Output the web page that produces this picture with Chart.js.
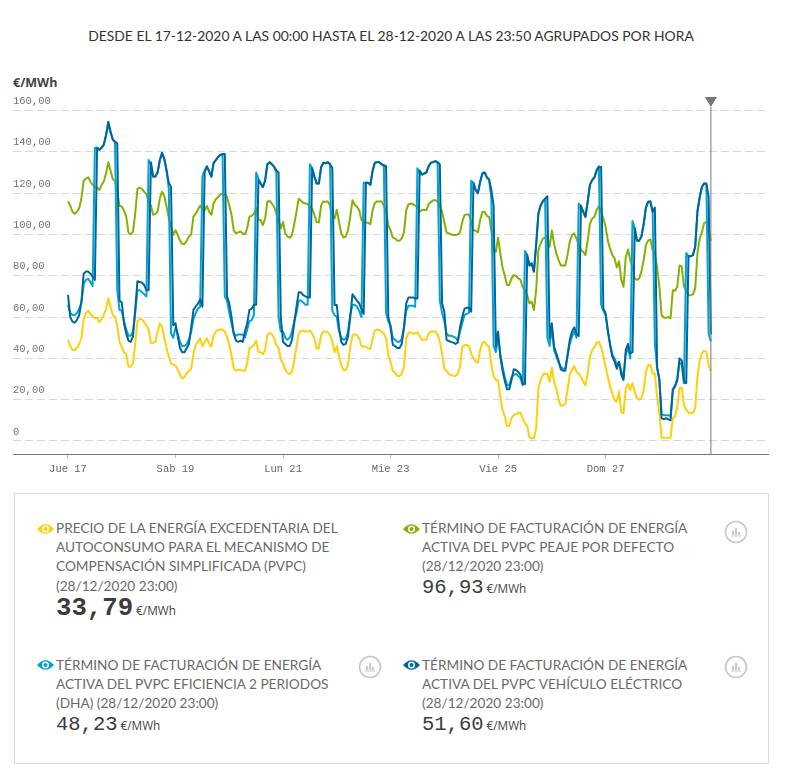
<!DOCTYPE html>
<html>
<head>
<meta charset="utf-8">
<script src="https://cdn.jsdelivr.net/npm/chart.js@4"></script>
<style>
html,body{margin:0;padding:0;background:#fff;}
body{width:786px;height:780px;position:relative;overflow:hidden;font-family:Lato,"Open Sans",sans-serif;}
canvas{position:absolute;left:0;top:0;}
.title{position:absolute;left:0;top:27px;width:782px;text-align:center;font-size:13.9px;color:#333;line-height:17px;}
.unit{position:absolute;left:13px;top:74px;font:bold 12.5px "Open Sans",sans-serif;color:#444;}
.box{position:absolute;left:14px;top:493px;width:753px;height:269px;border:1px solid #dcdcdc;}
.item{position:absolute;width:300px;font-size:13.65px;line-height:19.2px;color:#6a6a6a;white-space:nowrap;}
.item .val{font-family:"Liberation Mono",monospace;font-size:20.5px;color:#3c3c3c;line-height:20px;margin-top:1px;}
.item .val.big{margin-top:3px;}
.item .val b{font-size:25.7px;}
.item .val span{font:11.8px "Open Sans",sans-serif;color:#444;margin-left:3px;}
.eye{position:absolute;width:17px;height:12px;}
.ico{position:absolute;width:24px;height:24px;}
</style>
</head>
<body>
<div class="title">DESDE EL 17-12-2020 A LAS 00:00 HASTA EL 28-12-2020 A LAS 23:50 AGRUPADOS POR HORA</div>
<div class="unit">€/MWh</div>
<canvas id="canvas1" width="786" height="480"></canvas>
<div class="box"></div>

<svg class="eye" style="left:37px;top:523px" viewBox="0 0 17 12"><path d="M0 6Q8.5 -3.5 17 6Q8.5 15.5 0 6z" fill="#ffcf09"/><circle cx="8.5" cy="6" r="3.5" fill="#fff"/><circle cx="8.5" cy="6" r="2" fill="#ffcf09"/></svg>
<div class="item" style="left:56px;top:519px">PRECIO DE LA ENERGÍA EXCEDENTARIA DEL<br>AUTOCONSUMO PARA EL MECANISMO DE<br>COMPENSACIÓN SIMPLIFICADA (PVPC)<br>(28/12/2020 23:00)<div class="val big"><b>33,79</b><span>€/MWh</span></div></div>

<svg class="eye" style="left:403px;top:523px" viewBox="0 0 17 12"><path d="M0 6Q8.5 -3.5 17 6Q8.5 15.5 0 6z" fill="#85b200"/><circle cx="8.5" cy="6" r="3.5" fill="#fff"/><circle cx="8.5" cy="6" r="2" fill="#85b200"/></svg>
<div class="item" style="left:422px;top:519px">TÉRMINO DE FACTURACIÓN DE ENERGÍA<br>ACTIVA DEL PVPC PEAJE POR DEFECTO<br>(28/12/2020 23:00)<div class="val">96,93<span>€/MWh</span></div></div>

<svg class="eye" style="left:37px;top:659px" viewBox="0 0 17 12"><path d="M0 6Q8.5 -3.5 17 6Q8.5 15.5 0 6z" fill="#00a2d8"/><circle cx="8.5" cy="6" r="3.5" fill="#fff"/><circle cx="8.5" cy="6" r="2" fill="#00a2d8"/></svg>
<div class="item" style="left:56px;top:656px">TÉRMINO DE FACTURACIÓN DE ENERGÍA<br>ACTIVA DEL PVPC EFICIENCIA 2 PERIODOS<br>(DHA) (28/12/2020 23:00)<div class="val">48,23<span>€/MWh</span></div></div>

<svg class="eye" style="left:403px;top:659px" viewBox="0 0 17 12"><path d="M0 6Q8.5 -3.5 17 6Q8.5 15.5 0 6z" fill="#006699"/><circle cx="8.5" cy="6" r="3.5" fill="#fff"/><circle cx="8.5" cy="6" r="2" fill="#006699"/></svg>
<div class="item" style="left:422px;top:656px">TÉRMINO DE FACTURACIÓN DE ENERGÍA<br>ACTIVA DEL PVPC VEHÍCULO ELÉCTRICO<br>(28/12/2020 23:00)<div class="val">51,60<span>€/MWh</span></div></div>

<svg class="ico" style="left:724px;top:520px" viewBox="0 0 24 24"><circle cx="12" cy="12" r="10.5" fill="none" stroke="#c8c8c8" stroke-width="1.6"/><path d="M7 16h10" stroke="#c8c8c8"/><path d="M8 11h2v4H8zM11 8h2v7h-2zM14 12h2v3h-2z" fill="#c8c8c8"/></svg>
<svg class="ico" style="left:358px;top:655px" viewBox="0 0 24 24"><circle cx="12" cy="12" r="10.5" fill="none" stroke="#c8c8c8" stroke-width="1.6"/><path d="M7 16h10" stroke="#c8c8c8"/><path d="M8 11h2v4H8zM11 8h2v7h-2zM14 12h2v3h-2z" fill="#c8c8c8"/></svg>
<svg class="ico" style="left:724px;top:655px" viewBox="0 0 24 24"><circle cx="12" cy="12" r="10.5" fill="none" stroke="#c8c8c8" stroke-width="1.6"/><path d="M7 16h10" stroke="#c8c8c8"/><path d="M8 11h2v4H8zM11 8h2v7h-2zM14 12h2v3h-2z" fill="#c8c8c8"/></svg>

<script>
// tick positions, x is hours since 17-12-2020 00:00
var xTicks = [0,48,96,144,192,240];
var xLabels = ["Jue 17","Sab 19","Lun 21","Mie 23","Vie 25","Dom 27"];
var yTicks = [0,20,40,60,80,100,120,140,160];
var yLabels = ["0","20,00","40,00","60,00","80,00","100,00","120,00","140,00","160,00"];
var cursorHour = 287;

// precio energia excedentaria
var excedentaria = [
49,46,44,44,45,47,50,59,62,63,61.5,60.5,59.5,59.5,57.5,59,61,64,69,65,61,60,56,48,
45.5,43,42,36,36,37.5,47,58,59,59,57.5,56,54,47.5,47.5,48,53,57,55,50,45,41,37.5,37,
36.5,34.5,32,30.3,31,32.8,34,35,42.4,46.5,48,49.7,45.7,48,49.7,47,45.7,51.3,53,53.8,54,54,53,50.5,
46.5,41.6,35,34,34.4,34.4,34,34,37.6,45,45.7,46.5,48.6,43,43,42,44,51.3,52.4,51.8,49.7,46.5,45,39.5,
37.6,34.4,33,32.4,33.5,39,45.6,51.8,53.4,53.4,53,53,53.4,52,49.7,44.8,44.8,51.3,53,53,52.6,51.3,48,43,
46,40.8,36.8,34.4,34.4,36.8,45.6,51,51.6,51.3,49.7,46,45.6,45.6,44.8,44.5,49.7,53.4,54,53.7,53,52,49.7,41.6,
38.4,33.9,33,31.5,31.5,32.4,36,49.7,52.4,52.6,52,52,52.6,50.8,48.9,49.2,49,52,53,53,53,51.6,48,42.4,
35,34,32.4,32,31.6,31.5,32.4,36,45.6,46.5,46.5,46,42.4,40,38.4,38,44,47.6,48,46.5,45.6,36.8,31.5,29.5,
29.5,21.5,15,11.8,7.3,7.3,11,12.6,13,13.7,13.7,11,8.5,7.3,1.8,1.3,1.3,6,25.5,29.5,32,32.7,32.4,28.7,
35.5,28.7,25.5,19.8,17,17.2,18,24.7,32,34.4,36.3,33.5,32.7,31,28.7,27,32.7,40.8,44,45.3,47.7,48,45.6,40.8,
36,31,26.3,23,19.8,19,24,14,13.4,25.5,27.6,24.7,28,24,20.6,20,20.8,24.7,33.5,36.8,36.8,32.7,32.7,21.5,
13.4,1.6,1.6,1.6,1.6,1.6,11,11.8,16.6,25.8,25.8,17.4,15,13.7,13.4,13.7,15.8,31,39,42.4,43.7,43,36.8,33.79];

// peaje por defecto
var peajeDefecto = [
116,114,111,110,111,112.7,117.5,126,127,127.7,125.6,124,123,122.8,121.5,124,125.6,129.6,135,131,126.7,126,120.7,113.8,
113.5,111.5,108.6,101,100,101.4,110,122,122.7,122,120.7,119.6,116,114,109.5,110,111,117.5,120.7,118.6,113.5,108,103.8,99.8,
102,99.8,97,95.4,95.4,97,99,100,108.6,110,112,114,112,111.5,113.8,111,109.5,115,117,118,119.4,119.6,119.6,118,
114,109.5,102,100.5,101,101.4,100.5,100,103,108.6,109,110,112.7,107,107,104.5,107.7,115.8,116.3,115,113.4,110,107,103,
106,100.5,99,98.4,99.7,105,111,117.3,116.3,115.3,115,114.7,113.4,112.6,109.4,106,105.8,114,116,115.8,116,114,109.4,107.7,
112,106,100.5,98.5,98.9,102,108.5,116.6,114.5,113.4,111.8,107,106,105.8,105.6,105,111.8,115.3,116,116,116,114,111,104.5,
102,98.5,98,97,97,98,101,111.8,114.5,115,114.7,113.9,113.4,111,111.8,111.8,111.8,114.7,115.8,116.5,116.6,115.8,114,111,
106,101,100.5,100,99.7,99.7,100,101,106,109.4,109.7,109.7,106,102,101.8,101,107,111,111,108.9,108.5,102,92.4,91.6,
98.4,90.8,84,80,75.5,75.5,78.7,80.3,80,78.7,78,74.4,73,70.6,66.6,67.4,63.4,73,92.4,95.6,98,98.5,99,94,
102,95.6,90.8,87.6,85,85,85,90,96.5,99.7,100.5,98,94.8,92.4,91.6,90,97,105,107.7,108.5,111.8,113.7,111,107.7,
103.7,97,93,90,88.4,84,87,78,74.7,89,92.7,87.6,84,78.7,78,78.7,82,87.6,94.8,97,97.6,92.4,90.8,84,
74.7,61,59.7,59.7,60,59.4,73,72.7,74.7,85,84.4,74.7,73,70.6,70.6,71,73.9,90.8,98,101,105.6,106,102,96.93];

// eficiencia 2 periodos (DHA)
var eficiencia = [
66,62,61,61,62,64,67,76,78,78.5,77,75,142,142,141,142,143.5,148,154,149,146,144.5,73,63.5,
63,58,54,51,51,53,62,73,73,72,71,70,136,134,128,128,130,136,139.5,136.5,131,122,52,50,
55,52,48,46,46,47,49,53,59,62,64,65,128,131,133,130.5,128,134.5,136,137.5,138.5,138.5,70,68,
62,57,52,51,51.5,51.5,51.5,50,54,58,58.5,61,130,127,124.7,123,126,134,135,134,132.7,130,60,53,
53,50,49,50,53,58,62,68,68,67,66,66,134,132,128,124.7,124.7,132.5,134.7,134.4,135,134,63,61,
60,53,50,49,49.5,53,61,66,66,65,63,60,125,125,125,124,131,134.7,135,135,134,133,62,58,
56,50,49,48,48,49.5,55,63,65.5,65.5,65.5,65,132,130,129,129.5,130,133,134.7,135,135.5,134.5,68,62,
58,52,51,51,50.5,50,48.5,53,57,61,61.5,62,126,125,121.5,120,125.5,129.5,130,127.6,126.6,117,46,43,
50,42,36,31,27,27,31,32,32.5,31.5,30.5,27,92,90,85,86,82,95,110,114,116,117,50,46,
55,44,41,38,36,35,35,41,47,50.5,53,50,115,113,111,108.5,115.8,124,126.3,127.6,131,133,66,63,
61,53,47,42,40,37,38,34,31,42,45,40,106.5,103,97,97,99,105,113,115.8,116,111,47,35,
30,13,12.5,12.5,12.5,12,25,27,30,38,37,28,91,89.5,89.5,90,94,111,118,123,124.7,124,52,48.23];

// vehiculo electrico
var vehiculo = [
70.7,60,57.8,57.3,58.6,61,67.5,81,82,82,81,79.6,78,142,141,142,143.5,148,154.6,150,146,145,144,68,
67,57,52,48.6,48,50.5,63.5,77.3,77,76.7,75.5,73,73,135,128,128,130,136,139.5,136.5,131,125,123,56,
57,50.5,45,43,43,45,47,55,63.5,65,66.5,68.5,65,130,133,130.5,128,134.5,136,137.5,138.5,139,139,70,
66.6,60,52,48.6,48,48.6,48,53,57,63.5,64,66,66,126.4,124.7,123,126,134,135,134,132.7,131,130,60,
48,47,46,46,49,57,65,72,72,70.6,70,69.5,69.5,132,128,124.7,124.7,132.5,134.7,134.4,135,134,132,65.8,
65.8,55,48,46.5,47,50.5,60,71,69.5,68,66.6,64,61.5,125,125,124,131,134.7,135,135,134,133.5,133,60,
55,46.5,46,45,45,47,55,66.6,69.5,69.5,69.5,69,69,131,129,129.5,130,133,134.7,135,135.5,135,134,66.6,
62.6,49,48.4,48,47.6,47,47.6,55,60,64,64.5,64.5,62.6,124.7,121.5,120,125.5,129.5,130,127.6,126.6,121.5,114,45.6,
53,41,34,29,25,25,29.5,34.7,34.4,33.5,32,27.6,27.6,90,85,86,82,95,110,114,116,117.4,118.5,49.7,
57,45.6,42.4,39,34.7,34,34,41.6,49,53,55,52,50.8,114,111,108.5,115.8,124,126.3,127.6,131,132.7,132.7,64,
61.8,53.7,46.5,40.8,38.4,35,38.4,32,29.5,44,47,42.4,43,103,97,97,99,105,113,115.8,116,111,113,36,
29.5,11,10.6,11,10.5,10,24.7,26.3,29.5,40,39,28.7,28,89.5,89.5,90,94,111,118,123,124.7,124.7,118,51.6];

function toPoints(values){
	return values.map(function(v,i){ return {x:i,y:v}; });
}

// order: el menor se pinta encima
function serie(name,color,values,order){
	return {label:name,data:toPoints(values),borderColor:color,borderWidth:2,order:order,
		pointRadius:0,tension:0,fill:false,borderJoinStyle:"round"};
}

// linea vertical con triangulo en la ultima hora
var cursorPlugin = {
	id:"cursor",
	afterDatasetsDraw:function(chart){
		var ctx = chart.ctx;
		var x = chart.scales.x.getPixelForValue(cursorHour);
		var area = chart.chartArea;
		ctx.save();
		ctx.strokeStyle = "#777";
		ctx.fillStyle = "#777";
		ctx.lineWidth = 1;
		ctx.beginPath();
		ctx.moveTo(x,area.top);
		ctx.lineTo(x,area.bottom);
		ctx.stroke();
		ctx.beginPath();
		ctx.moveTo(x-6,area.top-10);
		ctx.lineTo(x+6,area.top-10);
		ctx.lineTo(x,area.top);
		ctx.closePath();
		ctx.fill();
		ctx.restore();
	}
};

var tickFont = {family:"Liberation Mono",size:10.5,lineHeight:1.75};
var config = {
	type:"line",
	data:{datasets:[
		serie("PRECIO DE LA ENERGÍA EXCEDENTARIA","#ffcf09",excedentaria,3),
		serie("PEAJE POR DEFECTO","#85b200",peajeDefecto,2),
		serie("EFICIENCIA 2 PERIODOS","#00a2d8",eficiencia,1),
		serie("VEHÍCULO ELÉCTRICO","#006699",vehiculo,0)
	]},
	options:{
		responsive:false,
		animation:false,
		events:[],
		layout:{padding:{left:13,right:18,top:107,bottom:0}},
		plugins:{legend:{display:false},tooltip:{enabled:false}},
		scales:{
			x:{
				type:"linear",
				min:-24.55,
				max:312.5,
				border:{color:"#777",width:1},
				grid:{drawOnChartArea:false,drawTicks:true,tickLength:4,color:"#bbb"},
				afterBuildTicks:function(scale){
					scale.ticks = xTicks.map(function(v){ return {value:v}; });
				},
				afterFit:function(scale){ scale.height = 26; },
				ticks:{
					autoSkip:false,
					maxRotation:0,
					padding:5,
					color:"#666",
					font:{family:"Liberation Mono",size:10.5},
					callback:function(v){ return xLabels[xTicks.indexOf(v)]; }
				}
			},
			y:{
				min:-6.3,
				max:161.7,
				border:{display:false,dash:[8,4]},
				grid:{color:"#d9d9d9",drawTicks:false,lineWidth:1},
				afterBuildTicks:function(scale){
					scale.ticks = yTicks.map(function(v){ return {value:v}; });
				},
				afterFit:function(scale){ scale.width = 0; },
				ticks:{
					mirror:true,
					padding:0,
					color:"#7b716c",
					font:tickFont,
					// segunda linea vacia para subir la etiqueta sobre la rejilla
					callback:function(v){ return [yLabels[yTicks.indexOf(v)],""]; }
				}
			}
		}
	},
	plugins:[cursorPlugin]
};

var ctx1 = document.getElementById("canvas1").getContext("2d");
window.myLine1 = new Chart(ctx1,config);
</script>
</body>
</html>
